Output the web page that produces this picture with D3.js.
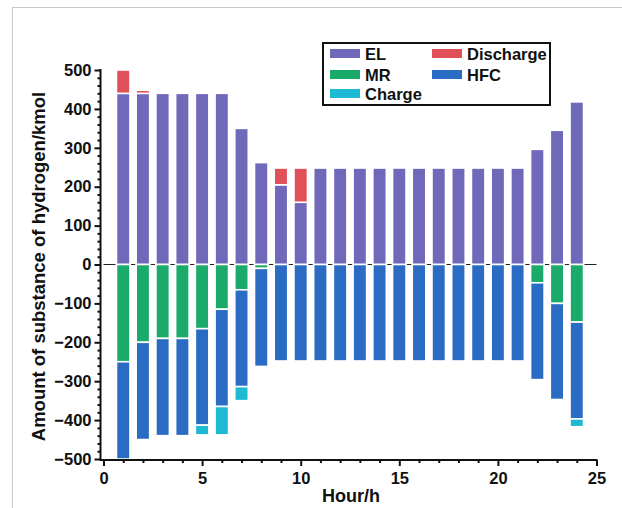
<!DOCTYPE html>
<html><head><meta charset="utf-8">
<script src="https://cdn.jsdelivr.net/npm/d3@7/dist/d3.min.js"></script>
<style>
body{margin:0;background:#fff;}
svg{display:block;font-family:"Liberation Sans",Arial,sans-serif;font-weight:bold;}
</style></head>
<body><svg id="c" width="622" height="508"></svg>
<script>
const hours = d3.range(1, 25);
const EL = [440,440,440,440,440,440,350,262,205,160,248,248,248,248,248,248,248,248,248,248,248,296,345,418];
const Discharge = [60,8,0,0,0,0,0,0,43,88,0,0,0,0,0,0,0,0,0,0,0,0,0,0];
const MR = [-250,-200,-190,-190,-165,-115,-65,-10,0,0,0,0,0,0,0,0,0,0,0,0,0,-47,-100,-148];
const HFC = [-250,-250,-250,-250,-248,-250,-249,-252,-248,-248,-248,-248,-248,-248,-248,-248,-248,-248,-248,-248,-248,-249,-247,-249];
const Charge = [0,0,0,0,-25,-73,-36,0,0,0,0,0,0,0,0,0,0,0,0,0,0,0,0,-20];
const xTicks = [0,5,10,15,20,25];
const yTicks = [-500,-400,-300,-200,-100,0,100,200,300,400,500];
const keys = ["EL","Discharge","MR","HFC","Charge"];
const colors = {EL:"#7068b8",Discharge:"#e05058",MR:"#1aab6a",HFC:"#2a6cc4",Charge:"#1eb9d2"};
const series = {EL,Discharge,MR,HFC,Charge};

const table = hours.map((h,i)=>{const o={hour:h}; keys.forEach(k=>o[k]=series[k][i]); return o;});

const svg = d3.select("#c");
svg.append("rect").attr("x",12.5).attr("y",7.5).attr("width",640).attr("height",540)
  .attr("fill","none").attr("stroke","#c8c8c8").attr("stroke-width",1);

const x = d3.scaleLinear().domain([0,25]).range([103.5,596.5]);
const y = d3.scaleLinear().domain([-500,500]).range([459,70]);
const bw = 13.5;

svg.append("line").attr("x1",x(0)).attr("x2",x(25)).attr("y1",y(0)).attr("y2",y(0))
  .attr("stroke","#222").attr("stroke-width",1);

const stack = d3.stack().keys(keys).offset(d3.stackOffsetDiverging);
const stacked = stack(table);

svg.append("g").selectAll("g").data(stacked).join("g")
  .attr("fill",d=>colors[d.key])
  .selectAll("rect").data(d=>d.filter(p=>p[1]!==p[0])).join("rect")
  .attr("x",d=>x(d.data.hour)-bw/2)
  .attr("width",bw)
  .attr("y",d=>y(Math.max(d[0],d[1])))
  .attr("height",d=>Math.abs(y(d[0])-y(d[1])))
  .attr("stroke","#fff").attr("stroke-width",1.6);

const yAxis = svg.append("g").attr("transform",`translate(${x(0)-3},0)`);
yAxis.call(d3.axisLeft(y).tickValues(yTicks).tickSize(6).tickPadding(3).tickFormat(d3.format("d")));
yAxis.append("g").call(d3.axisLeft(y).tickValues(d3.range(-500,501,20).filter(v=>v%100!==0)).tickSize(3).tickFormat(""))
  .select(".domain").remove();
yAxis.selectAll("text").attr("font-size",16.5).attr("font-weight","bold").attr("fill","#111")
  .attr("font-family","Liberation Sans, Arial, sans-serif");
yAxis.selectAll("line,path").attr("stroke","#111").attr("stroke-width",2);
yAxis.select(".domain").attr("d",`M0,${y(500)-1}V${y(-500)+1}`);

const xAxis = svg.append("g").attr("transform",`translate(0,${y(-500)+1})`);
xAxis.call(d3.axisBottom(x).tickValues(xTicks).tickSize(6).tickPadding(6).tickFormat(d3.format("d")));
xAxis.append("g").call(d3.axisBottom(x).tickValues(d3.range(0,26).filter(v=>v%5!==0)).tickSize(3).tickFormat(""))
  .select(".domain").remove();
xAxis.selectAll("text").attr("font-size",16.5).attr("font-weight","bold").attr("fill","#111")
  .attr("font-family","Liberation Sans, Arial, sans-serif");
xAxis.selectAll("line,path").attr("stroke","#111").attr("stroke-width",2);
xAxis.select(".domain").attr("d",`M${x(0)-4},0H${x(25)+1}`);

svg.append("text").attr("x",(x(0)+x(25))/2+1).attr("y",502).attr("text-anchor","middle")
  .attr("font-size",18).attr("fill","#111").text("Hour/h");
svg.append("text").attr("transform",`translate(45,${(y(500)+y(-500))/2+2}) rotate(-90)`)
  .attr("text-anchor","middle").attr("font-size",18.5).attr("fill","#111")
  .text("Amount of substance of hydrogen/kmol");

const lg = svg.append("g");
lg.append("rect").attr("x",323).attr("y",43).attr("width",227).attr("height",62)
  .attr("fill","#fff").attr("stroke","#111").attr("stroke-width",2);
const items = [
  {k:"EL",x:330,y:49},{k:"Discharge",x:432,y:49},
  {k:"MR",x:330,y:70},{k:"HFC",x:432,y:70},
  {k:"Charge",x:330,y:89}
];
items.forEach(it=>{
  lg.append("rect").attr("x",it.x).attr("y",it.y).attr("width",30).attr("height",9).attr("fill",colors[it.k]);
  lg.append("text").attr("x",it.x+35).attr("y",it.y+11).attr("font-size",16.5).attr("fill","#111").text(it.k);
});
</script></body></html>
